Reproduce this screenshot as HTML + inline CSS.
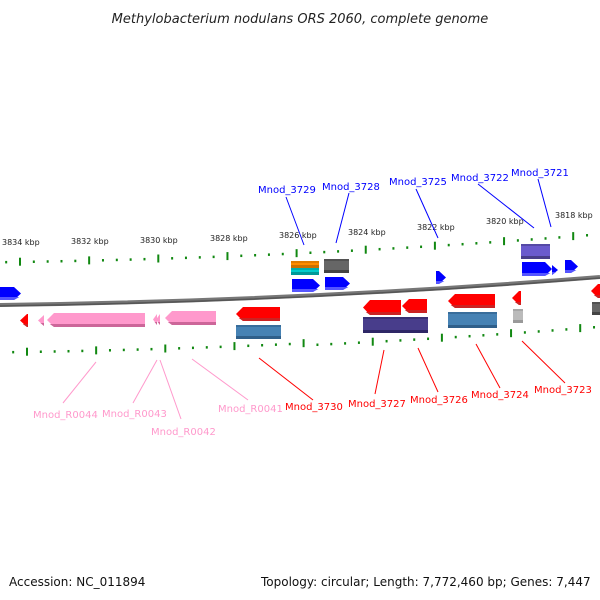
<!DOCTYPE html>
<html><head><meta charset="utf-8"><style>
html,body{margin:0;padding:0;background:#fff;width:600px;height:600px;overflow:hidden}
svg{display:block}
text{font-family:"DejaVu Sans","Liberation Sans",sans-serif}
</style></head><body>
<svg id="s" width="600" height="600" viewBox="0 0 600 600" xmlns="http://www.w3.org/2000/svg">
<text x="300" y="23" text-anchor="middle" font-size="13" font-style="italic" fill="#222">Methylobacterium nodulans ORS 2060, complete genome</text>
<path d="M0 305 Q300 301 600 277" stroke="#777" stroke-width="4" fill="none"/>
<path d="M0 306 Q300 302 600 278" stroke="#555" stroke-width="1.5" fill="none"/>
<g id="g"></g>
<g font-size="8" fill="#222">
<text x="2" y="245">3834 kbp</text>
<text x="71" y="244">3832 kbp</text>
<text x="140" y="243">3830 kbp</text>
<text x="210" y="241">3828 kbp</text>
<text x="279" y="238">3826 kbp</text>
<text x="348" y="235">3824 kbp</text>
<text x="417" y="230">3822 kbp</text>
<text x="486" y="224">3820 kbp</text>
<text x="555" y="218">3818 kbp</text>
</g>
<g font-size="10" fill="#0000ff">
<text x="258" y="193">Mnod_3729</text>
<text x="322" y="190">Mnod_3728</text>
<text x="389" y="185">Mnod_3725</text>
<text x="451" y="181">Mnod_3722</text>
<text x="511" y="176">Mnod_3721</text>
</g>
<g stroke="#0000ff" stroke-width="1">
<line x1="286" y1="197" x2="304" y2="245"/>
<line x1="349" y1="193" x2="336" y2="243"/>
<line x1="416" y1="189" x2="438" y2="238"/>
<line x1="478" y1="184" x2="534" y2="228"/>
<line x1="538" y1="179" x2="551" y2="227"/>
</g>
<g font-size="10" fill="#ff0000">
<text x="285" y="410">Mnod_3730</text>
<text x="348" y="407">Mnod_3727</text>
<text x="410" y="403">Mnod_3726</text>
<text x="471" y="398">Mnod_3724</text>
<text x="534" y="393">Mnod_3723</text>
</g>
<g stroke="#ff0000" stroke-width="1">
<line x1="259" y1="358" x2="313" y2="400"/>
<line x1="384" y1="350" x2="375" y2="394"/>
<line x1="418" y1="348" x2="438" y2="392"/>
<line x1="476" y1="344" x2="500" y2="388"/>
<line x1="522" y1="341" x2="565" y2="383"/>
</g>
<g font-size="10" fill="#ff99cc">
<text x="33" y="418">Mnod_R0044</text>
<text x="102" y="417">Mnod_R0043</text>
<text x="151" y="435">Mnod_R0042</text>
<text x="218" y="412">Mnod_R0041</text>
</g>
<g stroke="#ff99cc" stroke-width="1">
<line x1="96" y1="362" x2="63" y2="403"/>
<line x1="157" y1="360" x2="133" y2="403"/>
<line x1="160" y1="360" x2="181" y2="419"/>
<line x1="192" y1="359" x2="248" y2="400"/>
</g>
<text x="9" y="586" font-size="12" fill="#111">Accession: NC_011894</text>
<text x="261" y="586" font-size="12" fill="#111">Topology: circular; Length: 7,772,460 bp; Genes: 7,447</text>
</svg>
<script>
var g=document.getElementById('g'),NS='http://www.w3.org/2000/svg';
function bb(x){return 305-0.0133*x-0.0000556*x*x;}
function el(t,a){var e=document.createElementNS(NS,t);for(var k in a)e.setAttribute(k,a[k]);g.appendChild(e);return e;}
// ticks
for(var i=-2;i<46;i++){var x=20+i*13.83;if(x<0||x>600)continue;var big=(i%5==0);
 var yt=bb(x)-43, yb=bb(x)+47+(x>300?2:0);
 el('rect',{x:x-1,y:yt-(big?4:1),width:2,height:big?8:2.5,fill:'#118811'});
 el('rect',{x:x+7-1,y:yb-(big?4:1),width:2,height:big?8:2.5,fill:'#118811'});}
function box(x1,x2,y,h,c,d){el('rect',{x:x1,y:y,width:x2-x1,height:h,fill:c});el('rect',{x:x1,y:y+h-3,width:x2-x1,height:3,fill:d});el('rect',{x:x1,y:y,width:x2-x1,height:2,fill:d,opacity:0.6});}
function arr(x1,x2,y,h,dir,c,d){var t=Math.min(7,(x2-x1)),p;
 if(dir>0)p=[x1,y,x2-t,y,x2,y+h/2,x2-t,y+h,x1,y+h];else p=[x2,y,x1+t,y,x1,y+h/2,x1+t,y+h,x2,y+h];
 el('polygon',{points:p.join(' '),fill:c});
 if(dir>0)p=[x1,y+h-3,x2-t*1.5/ h*2,y+h-3,x2-t,y+h,x1,y+h];else p=[x2,y+h-3,x1+t*0.4,y+h-3,x1+t,y+h,x2,y+h];
 el('polygon',{points:p.join(' '),fill:d});}
var B='#0000ff',Bd='#5555ff',R='#ff0000',Rd='#cc2222',P='#ff99cc',Pd='#cc6699';
arr(0,21,287,13,1,B,Bd);
box(291,319,261,7,'#ff8c00','#cc7000');box(291,319,268,7,'#00cccc','#009999');
arr(292,320,279,13,1,B,Bd);
box(324,349,259,14,'#666','#444');arr(325,350,277,13,1,B,Bd);
arr(436,446,271,13,1,B,Bd);
box(521,550,244,15,'#6a5acd','#483d8b');arr(522,552,262,14,1,B,Bd);arr(552,558,265,10,1,B,Bd);arr(565,578,260,13,1,B,Bd);
arr(20,28,314,13,-1,R,Rd);arr(38,44,315,11,-1,P,Pd);arr(47,145,313,14,-1,P,Pd);
arr(153,157,314,11,-1,P,Pd);arr(156,160,314,11,-1,P,Pd);arr(165,216,311,14,-1,P,Pd);
arr(236,280,307,14,-1,R,Rd);box(236,281,325,14,'#4682b4','#2f5f8a');
arr(363,401,300,15,-1,R,Rd);arr(402,427,299,14,-1,R,Rd);box(363,428,317,16,'#483d8b','#2e2766');
arr(448,495,294,14,-1,R,Rd);box(448,497,312,16,'#4682b4','#2f5f8a');
arr(512,521,291,14,-1,R,Rd);box(513,523,309,14,'#bbb','#999');
arr(591,600,284,14,-1,R,Rd);box(592,600,302,13,'#666','#444');
</script>
</body></html>
